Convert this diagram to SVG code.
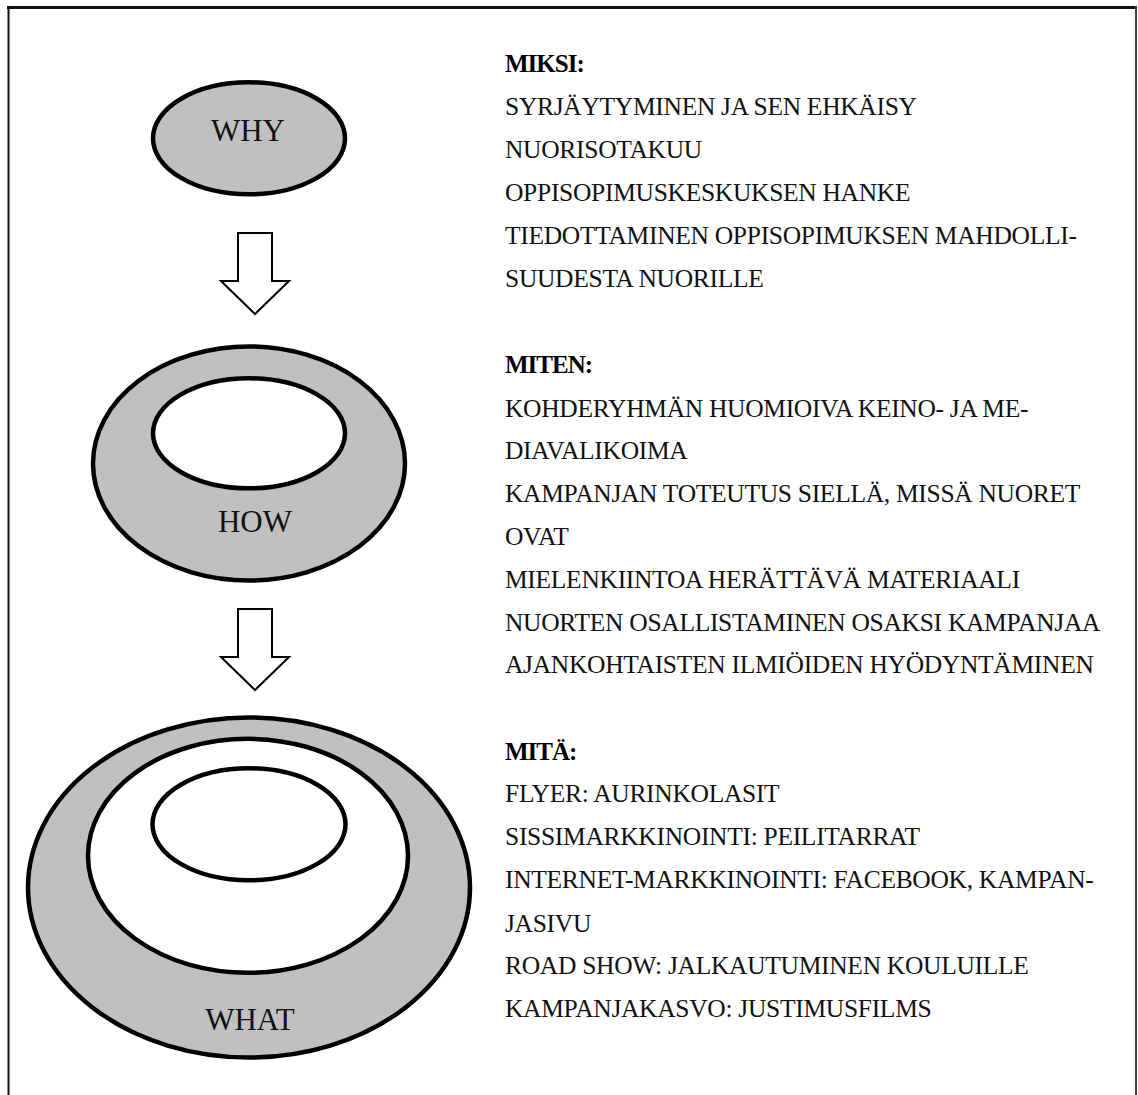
<svg xmlns="http://www.w3.org/2000/svg" width="1138" height="1095" viewBox="0 0 1138 1095">
<style>
.ring{fill:#c0c0c0;stroke:#000;stroke-width:4.5}
.hole{fill:#fff;stroke:#000;stroke-width:4.5}
.lbl{font-family:"Liberation Serif","Times New Roman",serif;font-size:31px;fill:#111;text-anchor:middle}
.arrow{fill:#fff;stroke:#000;stroke-width:2;stroke-linejoin:miter}
.t{font-family:"Liberation Serif","Times New Roman",serif;font-size:25.5px;fill:#111;letter-spacing:-0.3px}
.h{font-family:"Liberation Serif","Times New Roman",serif;font-size:25px;font-weight:bold;fill:#000;letter-spacing:-1px}
</style>
<rect width="1138" height="1095" fill="#fff"/>
<g id="frame">
<line x1="7" y1="7.5" x2="1137" y2="7.5" stroke="#111" stroke-width="3"/>
<line x1="8.5" y1="6" x2="8.5" y2="1095" stroke="#111" stroke-width="2"/>
<line x1="1136" y1="6" x2="1136" y2="1095" stroke="#444" stroke-width="2"/>
</g>
<g id="why">
<ellipse class="ring" cx="249" cy="138.3" rx="96" ry="56"/>
<text class="lbl" x="248" y="141">WHY</text>
</g>
<g id="how">
<ellipse class="ring" cx="249" cy="463.5" rx="156" ry="117"/>
<ellipse class="hole" cx="249" cy="433.3" rx="96" ry="55"/>
<text class="lbl" x="255" y="532">HOW</text>
</g>
<g id="what">
<ellipse class="ring" cx="249" cy="887.5" rx="221" ry="170"/>
<ellipse class="hole" cx="248" cy="855.8" rx="160" ry="117"/>
<ellipse class="hole" cx="249" cy="824.3" rx="96.5" ry="56"/>
<text class="lbl" x="250" y="1030">WHAT</text>
</g>
<g id="connectors">
<polygon class="arrow" points="238,233 272,233 272,281 289,281 255,314 221,281 238,281"/>
<polygon class="arrow" points="238,609 272,609 272,657 289,657 255,690 221,657 238,657"/>
</g>
<g id="headings">
<text class="h" x="505" y="72.4">MIKSI:</text>
<text class="h" x="505" y="373.1">MITEN:</text>
<text class="h" x="505" y="759.8">MITÄ:</text>
</g>
<g id="lists">
<text class="t" x="505" y="115.3">SYRJÄYTYMINEN JA SEN EHKÄISY</text>
<text class="t" x="505" y="158.3">NUORISOTAKUU</text>
<text class="t" x="505" y="201.2">OPPISOPIMUSKESKUKSEN HANKE</text>
<text class="t" x="505" y="244.2">TIEDOTTAMINEN OPPISOPIMUKSEN MAHDOLLI-</text>
<text class="t" x="505" y="287.1">SUUDESTA NUORILLE</text>
<text class="t" x="505" y="416.6">KOHDERYHMÄN HUOMIOIVA KEINO- JA ME-</text>
<text class="t" x="505" y="459.3">DIAVALIKOIMA</text>
<text class="t" x="505" y="501.8">KAMPANJAN TOTEUTUS SIELLÄ, MISSÄ NUORET</text>
<text class="t" x="505" y="545">OVAT</text>
<text class="t" x="505" y="588.3">MIELENKIINTOA HERÄTTÄVÄ MATERIAALI</text>
<text class="t" x="505" y="630.8">NUORTEN OSALLISTAMINEN OSAKSI KAMPANJAA</text>
<text class="t" x="505" y="673.4">AJANKOHTAISTEN ILMIÖIDEN HYÖDYNTÄMINEN</text>
<text class="t" x="505" y="802">FLYER: AURINKOLASIT</text>
<text class="t" x="505" y="845">SISSIMARKKINOINTI: PEILITARRAT</text>
<text class="t" x="505" y="888.3">INTERNET-MARKKINOINTI: FACEBOOK, KAMPAN-</text>
<text class="t" x="505" y="931.6">JASIVU</text>
<text class="t" x="505" y="974.2">ROAD SHOW: JALKAUTUMINEN KOULUILLE</text>
<text class="t" x="505" y="1016.9">KAMPANJAKASVO: JUSTIMUSFILMS</text>
</g>
</svg>
